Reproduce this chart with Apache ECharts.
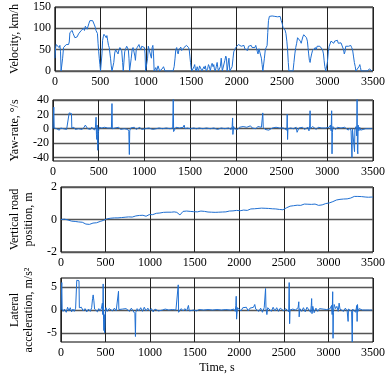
<!DOCTYPE html>
<html><head><meta charset="utf-8">
<script src="https://cdn.jsdelivr.net/npm/echarts@6/dist/echarts.min.js"></script>
<style>html,body{margin:0;padding:0;background:#fff}#c{width:388px;height:375px}</style>
</head><body><div id="c"></div>
<script>
// ---- Data ----
const xTicks = [0, 500, 1000, 1500, 2000, 2500, 3000, 3500];

const velT = [0,8,15,25,35,45,55,62,68,78,85,95,110,125,140,150,158,165,175,190,200,210,220,230,245,260,275,290,305,315,325,335,345,355,365,375,385,395,405,415,425,435,445,452,460,468,475,482,488,495,502,510,518,525,532,540,550,558,565,572,580,590,598,605,612,620,628,640,648,658,668,678,688,695,705,715,725,735,745,752,760,768,778,790,800,808,815,822,832,840,850,860,870,880,886,895,905,915,925,935,945,955,965,975,985,992,998,1010,1020,1028,1038,1048,1055,1062,1070,1078,1085,1092,1100,1110,1120,1135,1145,1152,1170,1180,1195,1205,1212,1240,1255,1270,1300,1312,1322,1330,1340,1348,1356,1365,1375,1385,1395,1405,1420,1435,1448,1460,1470,1478,1485,1492,1500,1507,1520,1530,1538,1545,1555,1565,1572,1580,1592,1600,1610,1618,1630,1640,1648,1655,1665,1680,1690,1700,1710,1720,1730,1740,1748,1755,1765,1775,1785,1792,1800,1812,1820,1830,1835,1842,1860,1870,1880,1888,1895,1905,1915,1925,1940,1950,1960,1968,1978,1990,2000,2010,2020,2030,2040,2050,2060,2070,2080,2090,2100,2110,2120,2130,2140,2150,2160,2170,2180,2190,2200,2210,2220,2228,2235,2245,2255,2265,2272,2280,2288,2298,2305,2315,2325,2335,2342,2350,2360,2375,2390,2405,2420,2435,2450,2465,2478,2490,2500,2510,2520,2532,2542,2552,2560,2568,2575,2620,2630,2640,2650,2660,2670,2680,2690,2700,2710,2718,2728,2738,2748,2758,2768,2778,2785,2792,2800,2808,2815,2825,2835,2845,2855,2865,2875,2885,2895,2905,2915,2925,2935,2945,2955,2962,2970,2980,2990,2998,3008,3018,3028,3038,3048,3058,3068,3078,3088,3098,3108,3118,3128,3138,3148,3158,3168,3176,3184,3192,3200,3210,3220,3232,3245,3255,3265,3275,3285,3295,3305,3312,3330,3345,3355,3362,3370,3400,3420,3440,3460,3475,3490];
const velV = [30,55,62,58,60,55,60,45,0,0,30,55,58,62,65,62,68,90,93,95,88,85,78,82,80,87,90,95,98,100,95,105,103,98,100,112,118,115,117,118,115,108,102,95,98,88,65,45,30,15,0,0,40,72,80,86,84,85,78,83,72,60,55,42,30,12,0,0,20,42,50,54,48,40,50,55,52,48,20,0,0,45,52,58,55,50,30,0,0,30,50,55,52,35,25,50,55,58,62,55,50,58,56,62,55,40,0,0,30,58,60,55,35,30,55,60,40,0,0,8,0,12,15,0,0,5,10,8,0,0,3,0,0,10,30,50,55,45,40,50,52,56,48,52,55,58,60,58,55,50,35,20,5,0,0,10,15,5,0,10,5,0,12,8,15,0,0,10,5,12,0,5,15,10,0,12,18,10,15,5,0,10,20,8,0,0,10,30,28,0,0,25,35,30,0,0,30,0,0,10,30,45,50,55,52,58,62,65,60,58,62,55,60,52,55,50,48,58,55,62,60,55,52,58,55,60,58,45,40,52,55,48,30,15,0,0,30,50,55,60,90,118,128,130,129,131,128,130,127,131,128,118,112,102,98,96,88,70,50,20,0,0,20,40,55,65,78,80,74,70,65,72,80,85,88,85,78,70,55,40,25,20,30,40,48,52,50,55,50,58,60,55,58,62,55,50,40,25,10,0,0,20,45,58,62,70,68,72,65,70,74,68,72,65,68,62,66,70,62,50,40,45,58,60,55,58,56,60,55,50,35,20,10,0,0,10,15,8,0,0,3,0,5,2,0];

const yawT = [0,5,10,14,20,30,40,55,70,85,100,115,130,150,170,178,185,195,203,207,215,230,245,260,280,300,320,340,355,362,370,380,395,410,425,440,455,465,472,476,480,484,490,494,498,505,520,535,550,565,580,600,620,640,646,650,660,680,700,720,740,760,780,800,820,830,836,840,850,870,890,910,930,950,970,990,1010,1030,1050,1070,1090,1110,1130,1160,1200,1240,1280,1310,1316,1320,1330,1345,1365,1385,1405,1425,1435,1445,1470,1500,1520,1540,1570,1600,1640,1680,1720,1760,1800,1840,1880,1920,1950,1960,1965,1968,1972,1976,1985,2000,2020,2040,2060,2080,2100,2120,2140,2160,2180,2200,2220,2240,2260,2280,2295,2300,2320,2340,2360,2380,2400,2420,2440,2460,2480,2500,2520,2540,2558,2562,2566,2570,2600,2630,2660,2670,2680,2690,2710,2730,2750,2770,2790,2800,2808,2812,2815,2825,2840,2860,2880,2900,2920,2940,2960,2980,3000,3020,3035,3042,3048,3052,3056,3062,3075,3090,3110,3130,3150,3170,3190,3210,3230,3245,3260,3270,3275,3290,3298,3302,3315,3322,3326,3330,3334,3338,3345,3355,3365,3372,3380,3420,3460,3490];
const yawV = [0,2,30,1,-1,2,0,1,-2,1,2,0,1,-1,1,22,20,22,21,1,0,2,-1,1,0,1,-1,2,5,6,3,0,1,-1,2,0,-2,2,16,-8,-15,5,-30,-25,-5,2,0,1,-1,2,0,1,-1,1,35,0,-2,1,0,2,-1,1,0,2,-1,-4,-36,-3,1,0,2,-1,1,2,-1,1,0,-2,1,3,-1,1,0,1,0,1,0,1,44,-4,-2,2,0,1,-1,2,5,0,1,0,-2,1,0,1,0,1,0,1,-1,1,0,1,-1,3,15,-8,-10,3,0,2,-1,2,0,3,1,2,0,4,1,2,0,3,1,2,22,2,-1,1,-2,0,1,-1,2,0,1,-1,1,0,-2,20,-15,0,1,0,2,-5,-2,1,0,2,-1,1,2,-3,5,25,0,-2,3,1,-1,2,0,1,-1,1,0,2,5,-3,25,-35,-5,3,1,-1,2,0,1,-1,2,0,-2,1,-3,-40,0,-2,-32,0,3,-10,45,-30,-35,5,-3,2,-2,0,0,0,0,0];

const roadT = [0,20,40,60,80,100,120,140,160,180,200,220,240,260,280,300,320,340,360,380,400,420,440,460,480,500,520,540,560,580,600,620,640,660,680,700,720,740,760,780,800,820,840,860,880,900,920,940,955,970,990,1010,1030,1050,1070,1090,1110,1130,1150,1170,1190,1210,1240,1270,1300,1320,1335,1350,1370,1390,1410,1430,1450,1470,1490,1510,1530,1550,1570,1590,1610,1630,1650,1670,1690,1710,1730,1750,1770,1790,1810,1830,1850,1870,1890,1910,1930,1950,1970,1990,2010,2030,2050,2070,2090,2110,2130,2150,2170,2190,2210,2230,2250,2270,2290,2310,2330,2350,2370,2390,2410,2430,2450,2470,2490,2510,2530,2550,2570,2590,2610,2630,2650,2670,2690,2710,2730,2750,2770,2790,2810,2830,2850,2870,2890,2910,2930,2950,2970,2990,3010,3030,3050,3070,3090,3110,3130,3150,3170,3190,3210,3230,3250,3270,3290,3310,3330,3350,3370,3390,3420,3450,3480,3500];
const roadV = [0,-0.02,0.02,-0.05,-0.03,-0.08,-0.1,-0.07,-0.12,-0.18,-0.15,-0.2,-0.17,-0.25,-0.28,-0.25,-0.3,-0.27,-0.22,-0.25,-0.2,-0.18,-0.12,-0.1,-0.05,0.02,0.05,0.03,0.08,0.06,0.1,0.08,0.1,0.09,0.12,0.1,0.14,0.12,0.16,0.18,0.15,0.2,0.22,0.2,0.25,0.22,0.26,0.15,0.2,0.28,0.3,0.33,0.3,0.35,0.38,0.36,0.4,0.42,0.44,0.43,0.45,0.46,0.45,0.47,0.44,0.35,0.28,0.38,0.5,0.55,0.52,0.54,0.5,0.52,0.48,0.5,0.47,0.5,0.52,0.49,0.5,0.48,0.46,0.48,0.45,0.47,0.44,0.46,0.45,0.48,0.46,0.49,0.47,0.5,0.52,0.5,0.53,0.55,0.56,0.58,0.54,0.52,0.58,0.6,0.56,0.62,0.65,0.7,0.66,0.72,0.68,0.74,0.7,0.73,0.69,0.72,0.68,0.7,0.66,0.7,0.65,0.68,0.62,0.65,0.6,0.66,0.72,0.78,0.82,0.8,0.85,0.83,0.88,0.9,0.87,0.92,0.95,0.98,0.94,0.96,0.93,0.97,0.95,0.92,0.87,0.85,0.9,0.95,0.98,1.0,1.02,1.05,1.1,1.15,1.2,1.22,1.24,1.22,1.26,1.28,1.27,1.3,1.32,1.38,1.42,1.41,1.42,1.4,1.41,1.4,1.38,1.37,1.38,1.38];

const latT = [0,5,10,14,25,40,60,75,90,105,120,135,150,165,175,178,185,195,203,207,215,230,250,270,290,310,330,345,355,362,370,378,395,410,425,440,455,465,470,474,478,482,486,490,494,498,505,520,540,560,580,600,620,640,646,650,670,690,710,730,750,770,790,810,830,836,840,855,875,895,915,935,945,955,975,995,1015,1035,1055,1075,1095,1115,1140,1170,1210,1250,1290,1310,1316,1320,1330,1350,1370,1390,1410,1430,1440,1460,1490,1520,1550,1600,1650,1700,1750,1800,1850,1900,1940,1955,1962,1966,1970,1974,1980,2000,2020,2040,2060,2080,2100,2120,2140,2160,2174,2185,2200,2220,2240,2260,2280,2295,2300,2310,2320,2340,2360,2380,2400,2420,2440,2460,2480,2500,2520,2540,2555,2560,2565,2570,2600,2630,2660,2668,2672,2680,2700,2720,2740,2760,2780,2800,2808,2812,2816,2825,2840,2860,2880,2900,2920,2940,2960,2980,3000,3020,3035,3042,3048,3052,3056,3065,3080,3095,3110,3120,3130,3150,3170,3190,3210,3221,3225,3245,3260,3267,3272,3290,3305,3318,3322,3326,3332,3345,3360,3380,3420,3460,3490];
const latV = [0,0.3,6,0.2,-0.3,0.2,-0.5,0.6,-0.2,0.5,-0.4,0.2,-0.3,0.4,0.5,6.5,6.2,6.6,6.4,0.5,0.2,0.6,-0.2,0.3,-0.4,0.2,-0.3,0.5,2.5,3.3,2,0.2,0.5,-0.4,0.3,-0.2,0.4,1.5,-1,5.7,-2,-4.5,-1,-5,-4,-0.5,0.5,-0.3,0.3,0.2,-0.2,0.4,-0.2,0.2,4.1,0.1,-0.3,0.2,-0.2,0.3,0.1,-0.3,0.4,-0.2,-0.8,-5.8,-0.5,0.3,-0.2,0.5,-0.3,0.6,1,-0.2,0.4,-0.2,0.3,-0.4,0.2,0.5,-0.2,0.2,0,0.2,0,0.1,0,0.2,5.5,-0.5,-0.3,0.3,-0.2,0.3,-0.2,1,-0.2,0.2,0,-0.2,0.1,0,0.1,0,0.1,0,0.1,0,0.2,-0.3,1,3,-2,-1,0.5,0.3,-0.2,0.5,0.2,0.6,-0.2,0.4,0.1,0.6,1.2,0.2,0.6,-0.3,0.4,-0.5,0.5,4.7,0.3,-1,0.5,0.8,-0.3,0.6,-0.2,0.5,-0.3,0.4,0.2,-0.2,0.3,0,-0.4,6,-3,0,0.2,0,0.5,1.8,-1.5,0.3,-0.3,0.5,-0.4,0.6,0.2,-0.5,1,2.5,-0.8,0.8,-0.6,0.4,-0.3,0.3,0,0.2,-0.2,0.1,0,0.3,1,-1,4,-6.2,-0.5,1.2,0.3,0.8,-0.3,1.5,0.2,0.6,-0.3,0.4,-0.2,-2.5,0.2,0.3,-0.3,-7,0.2,0.4,-0.5,1,-2.5,1.2,-0.3,0.3,0,0,0,0,0];

const velTicks = [0, 50, 100, 150];
const yawTicks = [-40, -20, 0, 20, 40];
const roadTicks = [-2, 0, 2];
const latTicks = [-5, 0, 5];

// ---- Chart ----
const FONT = 'Liberation Serif';
const pair = (t, v) => t.map((x, i) => [x, v[i]]);
const plain = v => String(v);
const grids = [
  {top: 7, height: 64}, {top: 100, height: 61}, {top: 187, height: 65}, {top: 278, height: 64}
].map(g => Object.assign({left: 45, right: 13, show: true, borderColor: '#000', borderWidth: 1, backgroundColor: '#fff'}, g));

function xAxis(i) {
  return {
    type: 'value', gridIndex: i, min: 0, max: 3500,
    axisLine: {show: false},
    axisTick: {show: false, customValues: xTicks},
    axisLabel: {fontFamily: FONT, fontSize: 12, color: '#000', margin: 5, customValues: xTicks, formatter: plain},
    splitLine: {show: true, lineStyle: {color: '#222', width: 1}},
    name: i === 3 ? 'Time, s' : '', nameLocation: 'middle', nameGap: 20,
    nameTextStyle: {fontFamily: FONT, fontSize: 12, color: '#000'}
  };
}
function yAxis(i, min, max, ticks, name, gap) {
  return {
    type: 'value', gridIndex: i, min: min, max: max,
    axisLine: {show: false},
    axisTick: {show: false, customValues: ticks},
    axisLabel: {fontFamily: FONT, fontSize: 12, color: '#000', margin: 4, customValues: ticks, formatter: plain},
    splitLine: {show: true, lineStyle: {color: '#555', width: 1.3}},
    name: name, nameLocation: 'middle', nameRotate: 90, nameGap: gap,
    nameTextStyle: {fontFamily: FONT, fontSize: 12, color: '#000', lineHeight: 14, align: 'center'}
  };
}
const lineStyle = {color: '#1f6fd2', width: 1};
function ser(i, t, v) {
  return {type: 'line', xAxisIndex: i, yAxisIndex: i, data: pair(t, v), showSymbol: false, symbol: 'none',
    lineStyle: lineStyle, animation: false, clip: true};
}
const chart = echarts.init(document.getElementById('c'), null, {renderer: 'canvas'});
chart.setOption({
  animation: false,
  grid: grids,
  xAxis: [0, 1, 2, 3].map(xAxis),
  yAxis: [
    yAxis(0, 0, 150, velTicks, 'Velocity, km/h', 26),
    yAxis(1, -45, 40, yawTicks, 'Yaw-rate, °/s', 26),
    yAxis(2, -2, 2, roadTicks, 'Vertical road\nposition, m', 15),
    yAxis(3, -7, 7, latTicks, 'Lateral\nacceleration, m/s²', 15)
  ],
  series: [ser(0, velT, velV), ser(1, yawT, yawV), ser(2, roadT, roadV), ser(3, latT, latV)]
});
</script>
</body></html>
